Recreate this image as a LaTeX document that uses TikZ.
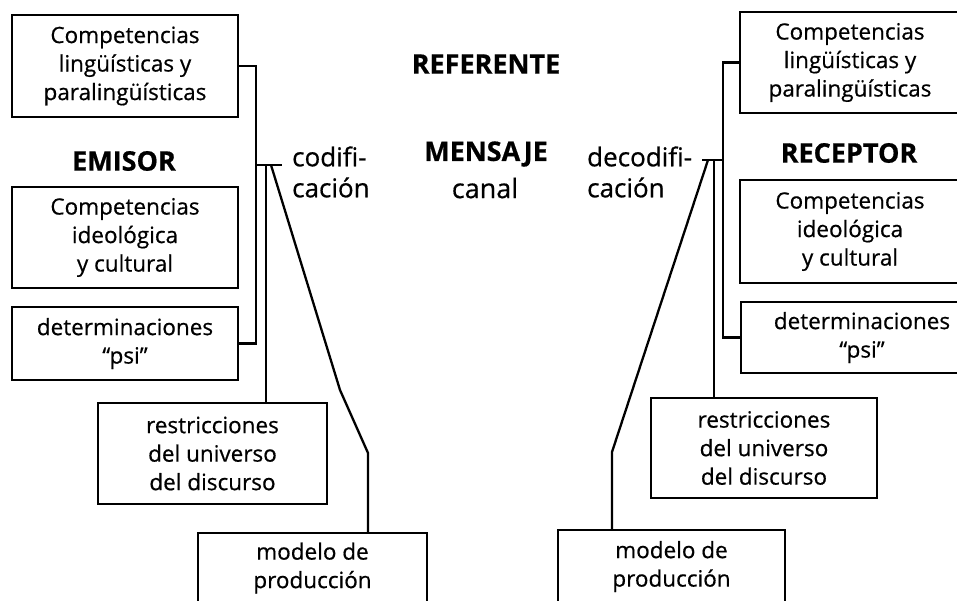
\documentclass[tikz,border=0pt]{standalone}
\usepackage{fontspec}
\setmainfont{Open Sans}[FakeBold=0.6]
\begin{document}
\begin{tikzpicture}[x=1pt,y=-1pt,
  box/.style={draw,line width=2.3pt,rectangle,inner sep=0pt,align=center,font=\fontsize{22.5}{28.5}\selectfont},
  lbl/.style={inner sep=0pt,align=left,font=\fontsize{26}{31}\selectfont},
  head/.style={inner sep=0pt,font=\fontsize{27}{30}\selectfont\bfseries},
  wire/.style={line width=2.3pt}]
\useasboundingbox (0,0) rectangle (957,601);
\clip (0,0) rectangle (957,601);

% left side boxes
\node[box,minimum width=226pt,minimum height=102pt] (L1) at (125,66) {Competencias\\lingüísticas y\\paralingüísticas};
\node[box,minimum width=226pt,minimum height=101pt] (L2) at (125,237.5) {Competencias\\ideológica\\y cultural};
\node[box,minimum width=226pt,minimum height=73pt] (L3) at (125,343.5) {determinaciones\\“psi”};
\node[box,minimum width=229pt,minimum height=101pt] (L4) at (212.5,453.5) {restricciones\\del universo\\del discurso};
\node[box,minimum width=229pt,minimum height=70pt] (L5) at (312.5,568) {modelo de\\producción};

% right side boxes
\node[box,minimum width=220pt,minimum height=101pt] (R1) at (850,62.5) {Competencias\\lingüísticas y\\paralingüísticas};
\node[box,minimum width=220pt,minimum height=103pt] (R2) at (850,231.5) {Competencias\\ideológica\\y cultural};
\node[box,minimum width=242pt,minimum height=71pt] (R3) at (862,337.5) {determinaciones\\“psi”};
\node[box,minimum width=226pt,minimum height=100pt] (R4) at (764,448) {restricciones\\del universo\\del discurso};
\node[box,minimum width=227pt,minimum height=73pt] (R5) at (671.5,566.5) {modelo de\\producción};

% headings and labels
\node[head] (emisor) at (124,161) {EMISOR};
\node[head] (receptor) at (849,153) {RECEPTOR};
\node[head] (referente) at (486,64) {REFERENTE};
\node[head] (mensaje) at (486,154) {MENSAJE};
\node[lbl,font=\fontsize{27}{31}\selectfont] (canal) at (485,188) {canal};
\node[lbl,anchor=west] (cod) at (292,172) {codifi-\\cación};
\node[lbl,anchor=west] (decod) at (587,172) {decodifi-\\cación};

% left connectors
\coordinate (lbusA) at (256,165);
\coordinate (lbusB) at (282,165);
\coordinate (lv) at (266,165);
\coordinate (ld) at (271,165);
\coordinate (ld1) at (340,390);
\coordinate (ld2) at (368,453);
\draw[wire] (L1.east) -- (L1.east -| lbusA) |- (L3.east);
\draw[wire] (lbusA) -- (lbusB);
\draw[wire] (lv) -- (lv |- L4.north);
\draw[wire] (ld) -- (ld1) -- (ld2) -- (ld2 |- L5.north);

% right connectors
\coordinate (rbusA) at (723,160);
\coordinate (rbusB) at (702,160);
\coordinate (rv) at (714,160);
\coordinate (rd) at (708,160);
\coordinate (rd1) at (612,452);
\draw[wire] (R1.west) -- (R1.west -| rbusA) |- (R3.west);
\draw[wire] (rbusA) -- (rbusB);
\draw[wire] (rv) -- (rv |- R4.north);
\draw[wire] (rd) -- (rd1) -- (rd1 |- R5.north);
\end{tikzpicture}
\end{document}
